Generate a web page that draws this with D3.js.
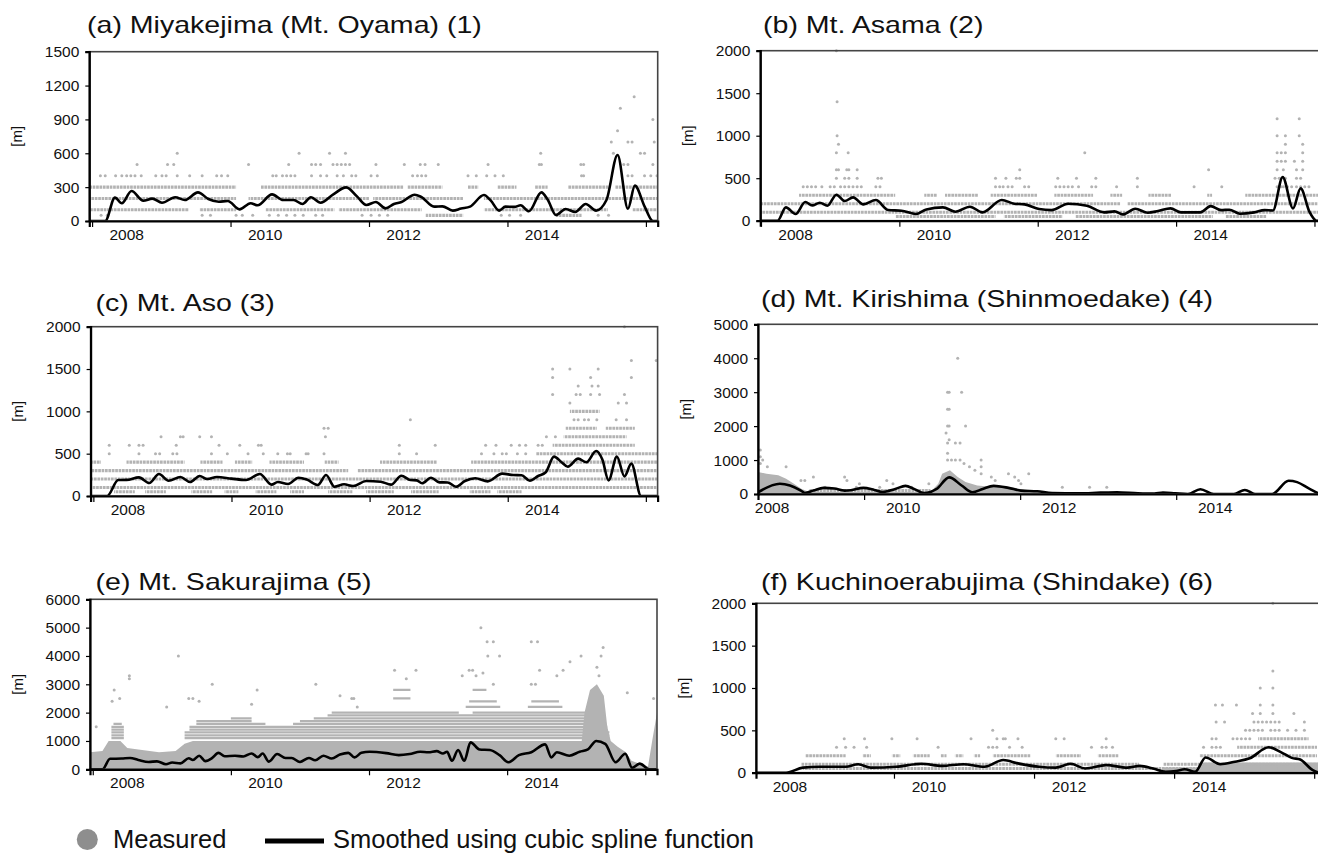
<!DOCTYPE html>
<html>
<head>
<meta charset="utf-8">
<script src="https://cdn.jsdelivr.net/npm/d3@7"></script>
<style>
  body { margin: 0; background: #fff; }
  text { font-family: "Liberation Sans", Arial, Helvetica, sans-serif; fill: #111; }
</style>
</head>
<body>
<svg id="chart" width="1318" height="853"></svg>
<script>
// ---- data (decimal years, metres) ----
const titles = ['(a) Miyakejima (Mt. Oyama) (1)', '(b) Mt. Asama (2)', '(c) Mt. Aso (3)',
  '(d) Mt. Kirishima (Shinmoedake) (4)', '(e) Mt. Sakurajima (5)', '(f) Kuchinoerabujima (Shindake) (6)'];
const yTicksA = [0, 300, 600, 900, 1200, 1500];
const yTicksB = [0, 500, 1000, 1500, 2000];
const yTicksC = [0, 500, 1000, 1500, 2000];
const yTicksD = [0, 1000, 2000, 3000, 4000, 5000];
const yTicksE = [0, 1000, 2000, 3000, 4000, 5000, 6000];
const yTicksF = [0, 500, 1000, 1500, 2000];
const xDomains = [[2007.96, 2016.17], [2007.99, 2016.2], [2007.96, 2016.17],
  [2008.64, 2015.92], [2007.96, 2016.17], [2008.03, 2016.14]];
const yearLabels = [2008, 2010, 2012, 2014];
const legendLabels = ['Measured', 'Smoothed using cubic spline function'];

// smoothed curves
const smoothA = [[2007.96,0],[2008.19,0],[2008.33,207],[2008.43,157],[2008.57,266],[2008.74,180],[2008.87,198],[2009.01,162],[2009.2,210],[2009.34,186],[2009.53,254],[2009.68,195],[2009.83,171],[2009.96,177],[2010.13,103],[2010.29,157],[2010.39,139],[2010.6,236],[2010.76,186],[2010.91,186],[2011.04,151],[2011.16,210],[2011.3,162],[2011.49,239],[2011.67,298],[2011.83,216],[2011.96,142],[2012.1,168],[2012.24,112],[2012.36,151],[2012.47,168],[2012.66,233],[2012.75,215],[2012.94,127],[2013.06,130],[2013.21,92],[2013.33,110],[2013.46,127],[2013.66,230],[2013.76,180],[2013.88,92],[2013.97,127],[2014.1,125],[2014.19,139],[2014.31,86],[2014.49,254],[2014.58,190],[2014.7,53],[2014.84,106],[2014.98,80],[2015.13,151],[2015.28,92],[2015.43,186],[2015.59,585],[2015.74,109],[2015.84,313],[2015.98,130],[2016.1,0],[2016.17,0]];
const smoothB = [[2007.99,0],[2008.24,0],[2008.36,157],[2008.5,78],[2008.64,220],[2008.74,180],[2008.85,212],[2008.96,176],[2009.09,306],[2009.21,231],[2009.33,274],[2009.48,192],[2009.66,243],[2009.84,125],[2010.03,118],[2010.24,78],[2010.39,133],[2010.63,157],[2010.81,106],[2011.02,165],[2011.2,98],[2011.48,243],[2011.66,200],[2011.81,192],[2012.02,137],[2012.2,125],[2012.44,200],[2012.71,176],[2012.96,98],[2013.11,110],[2013.23,74],[2013.41,141],[2013.59,94],[2013.74,114],[2013.92,145],[2014.07,98],[2014.35,98],[2014.5,172],[2014.65,125],[2014.77,129],[2014.92,82],[2015.13,98],[2015.28,125],[2015.4,120],[2015.54,513],[2015.69,145],[2015.8,380],[2015.93,100],[2016.03,0],[2016.2,0]];
const smoothC = [[2007.96,0],[2008.2,0],[2008.36,189],[2008.48,190],[2008.66,220],[2008.81,154],[2008.95,260],[2009.09,181],[2009.26,224],[2009.4,165],[2009.54,236],[2009.65,200],[2009.79,224],[2010.0,205],[2010.21,189],[2010.41,260],[2010.58,134],[2010.67,165],[2010.82,142],[2010.97,216],[2011.09,195],[2011.25,130],[2011.37,248],[2011.49,110],[2011.63,138],[2011.76,118],[2011.95,177],[2012.16,169],[2012.31,134],[2012.46,240],[2012.59,189],[2012.68,185],[2012.76,150],[2012.89,216],[2013.01,161],[2013.13,160],[2013.25,110],[2013.38,177],[2013.53,209],[2013.71,173],[2013.92,264],[2014.08,248],[2014.2,245],[2014.32,181],[2014.44,236],[2014.55,280],[2014.67,465],[2014.78,398],[2014.87,346],[2015.02,441],[2015.14,398],[2015.28,531],[2015.37,430],[2015.46,185],[2015.58,465],[2015.69,232],[2015.79,382],[2015.93,0],[2016.17,0]];
const smoothD = [[2008.64,50],[2008.92,300],[2009.05,250],[2009.19,100],[2009.24,30],[2009.35,100],[2009.48,180],[2009.62,160],[2009.75,100],[2009.83,110],[2009.99,180],[2010.13,120],[2010.23,60],[2010.4,150],[2010.53,240],[2010.64,150],[2010.77,30],[2010.93,150],[2011.09,490],[2011.25,250],[2011.39,50],[2011.52,150],[2011.66,240],[2011.85,180],[2012.01,100],[2012.22,80],[2012.41,30],[2012.76,20],[2013.03,40],[2013.24,50],[2013.51,20],[2013.72,10],[2013.83,40],[2013.99,20],[2014.15,0],[2014.31,140],[2014.48,0],[2014.74,0],[2014.88,120],[2015.01,0],[2015.23,0],[2015.44,390],[2015.55,350],[2015.71,150],[2015.87,0],[2015.92,0]];
const smoothE = [[2007.96,0],[2008.14,0],[2008.25,370],[2008.42,380],[2008.54,400],[2008.66,330],[2008.81,260],[2008.93,280],[2009.06,180],[2009.15,240],[2009.27,210],[2009.39,390],[2009.45,330],[2009.54,480],[2009.63,290],[2009.73,400],[2009.82,580],[2009.91,460],[2010.06,480],[2010.18,450],[2010.3,560],[2010.39,430],[2010.46,560],[2010.55,270],[2010.67,540],[2010.79,400],[2010.88,400],[2011.0,260],[2011.13,400],[2011.22,320],[2011.34,480],[2011.46,380],[2011.58,520],[2011.7,580],[2011.79,420],[2011.89,580],[2012.01,620],[2012.25,570],[2012.43,500],[2012.59,540],[2012.74,620],[2012.86,600],[2012.98,640],[2013.07,560],[2013.13,620],[2013.2,300],[2013.29,680],[2013.38,300],[2013.47,950],[2013.6,700],[2013.75,680],[2013.89,500],[2014.02,250],[2014.17,500],[2014.35,600],[2014.55,880],[2014.64,420],[2014.72,600],[2014.9,480],[2015.05,620],[2015.17,700],[2015.29,1000],[2015.42,900],[2015.57,250],[2015.71,550],[2015.81,50],[2015.92,200],[2016.06,0],[2016.17,0]];
const smoothF = [[2008.03,0],[2008.46,0],[2008.7,60],[2008.94,70],[2009.31,70],[2009.49,100],[2009.67,60],[2010.03,70],[2010.39,105],[2010.69,80],[2010.99,100],[2011.29,70],[2011.56,150],[2011.77,110],[2012.07,70],[2012.31,60],[2012.52,105],[2012.73,50],[2013.03,90],[2013.33,60],[2013.51,80],[2013.7,50],[2013.88,10],[2014.03,20],[2014.15,40],[2014.3,10],[2014.45,180],[2014.66,100],[2014.87,130],[2015.08,170],[2015.35,300],[2015.53,240],[2015.68,175],[2015.8,155],[2015.98,30],[2016.09,0],[2016.14,0]];

// dense measurement rows: [height, [[from, to], ...]]
const rowsA = [
  [300, [[2007.96,2010.08],[2010.44,2012.5],[2012.56,2013.06],[2013.43,2013.58],[2013.86,2014.13],[2014.4,2014.58],[2014.88,2015.46],[2015.56,2016.17]]],
  [200, [[2007.96,2010.08],[2010.26,2012.0],[2012.06,2013.36],[2013.66,2016.17]]],
  [100, [[2007.96,2009.4],[2009.55,2010.08],[2010.5,2011.5],[2011.56,2012.76],[2013.66,2015.45],[2015.8,2016.17]]],
  [50, [[2012.82,2013.36],[2014.7,2015.07]]]];
const rowsB = [
  [200, [[2007.99,2013.2],[2013.3,2016.2]]],
  [100, [[2007.99,2016.2]]],
  [50, [[2009.94,2011.39],[2011.51,2012.36],[2012.54,2014.53],[2014.71,2015.31]]],
  [300, [[2008.55,2009.94],[2010.36,2010.54],[2010.66,2011.14],[2011.32,2011.99],[2012.24,2012.8],[2013.05,2013.22],[2013.6,2013.93],[2014.45,2014.52],[2015.0,2016.2]]]];
const rowsC = [
  [200, [[2007.96,2016.17]]],
  [100, [[2007.96,2016.17]]],
  [300, [[2007.96,2011.69],[2011.82,2016.17]]],
  [400, [[2007.96,2008.11],[2008.48,2009.32],[2009.55,2009.87],[2010.05,2010.3],[2010.55,2011.05],[2011.35,2011.55],[2012.15,2012.98],[2013.47,2016.17]]],
  [50, [[2008.3,2008.6],[2008.75,2009.05],[2009.42,2009.72],[2009.9,2010.1],[2010.35,2010.65],[2010.85,2011.05],[2011.4,2011.75],[2011.95,2012.35],[2012.6,2013.0],[2013.45,2013.75],[2013.85,2014.2]]],
  [500, [[2014.41,2016.17]]],
  [600, [[2014.65,2015.84]]],
  [700, [[2014.81,2015.72]]],
  [800, [[2014.84,2015.29],[2015.42,2015.84]]],
  [1000, [[2014.9,2015.33]]]];
const rowsD = [
  [100, [[2009.3,2010.85]]]];
const rowsE = [
  [1100, [[2008.27,2008.45],[2009.33,2015.48]]],
  [1200, [[2008.27,2008.45],[2009.33,2015.48]]],
  [1300, [[2008.27,2008.45],[2009.33,2015.48]]],
  [1400, [[2008.27,2008.45],[2009.4,2015.45]]],
  [1500, [[2008.27,2008.45],[2009.4,2015.45]]],
  [1600, [[2008.3,2008.42],[2009.5,2010.5],[2010.9,2015.42]]],
  [1700, [[2009.5,2010.3],[2011.0,2015.42]]],
  [1800, [[2010.0,2010.3],[2011.2,2015.42]]],
  [1900, [[2011.4,2015.4]]],
  [2000, [[2011.46,2013.3],[2013.5,2015.4]]],
  [2200, [[2013.4,2013.9],[2014.3,2014.8]]],
  [2400, [[2013.45,2013.85],[2014.35,2014.75]]],
  [2500, [[2012.35,2012.6]]],
  [2800, [[2012.35,2012.6],[2013.5,2013.7]]]];
const rowsF = [
  [100, [[2008.68,2013.5],[2013.85,2016.14]]],
  [50, [[2008.7,2016.14]]],
  [200, [[2008.73,2009.31],[2009.55,2009.67],[2009.97,2010.09],[2010.27,2010.51],[2010.66,2010.75],[2010.87,2010.99],[2011.14,2011.23],[2011.41,2011.95],[2012.31,2012.67],[2012.91,2013.21],[2014.36,2016.04]]],
  [300, [[2014.9,2016.04]]],
  [400, [[2015.2,2015.92]]]];

// solid grey envelopes of very dense measurements
const cloudD = [[2008.64,650],[2008.75,600],[2008.9,550],[2009.0,450],[2009.1,300],[2009.2,150],[2009.3,60],[2010.85,60],[2010.95,300],[2011.0,600],[2011.1,700],[2011.2,500],[2011.3,350],[2011.45,250],[2011.7,200],[2011.9,200],[2012.0,150],[2012.2,80],[2012.35,50],[2013.7,40],[2013.75,0]];
const cloudE = [[2007.96,600],[2008.14,650],[2008.23,1000],[2008.4,1000],[2008.5,750],[2008.66,700],[2008.96,600],[2009.2,650],[2009.33,900],[2009.45,1000],[2015.08,1000],[2015.12,2000],[2015.2,2800],[2015.3,3000],[2015.4,2600],[2015.45,1500],[2015.5,1000],[2015.6,800],[2015.72,600],[2015.8,300],[2015.92,200],[2016.04,100],[2016.1,1000],[2016.17,2000]];
const cloudF = [[2013.85,60],[2014.35,60],[2014.42,120],[2016.1,120],[2016.14,120]];

// scattered measurements: [height, [years ...]]
const pointsA = [
  [50, [2008.13,2008.22,2009.59,2009.71,2010.08,2010.17,2010.32,2010.56,2010.69,2010.81,2010.93,2011.05,2011.23,2011.33,2011.9,2012.03,2012.15,2012.27,2013.91,2014.03,2014.19,2015.31,2015.46]],
  [400, [2008.12,2008.19,2008.34,2008.43,2008.5,2008.56,2008.62,2008.71,2008.92,2009.01,2009.07,2009.23,2009.41,2009.59,2009.8,2009.87,2009.96,2010.61,2010.66,2010.75,2010.81,2010.87,2010.93,2011.17,2011.3,2011.39,2011.54,2011.63,2011.75,2011.81,2012.03,2012.12,2012.63,2012.7,2012.76,2012.82,2013.43,2013.55,2013.7,2013.82,2013.94,2015.07,2015.1,2015.74,2015.8,2015.98,2016.07,2016.16]],
  [500, [2008.65,2009.09,2009.18,2010.26,2010.84,2011.17,2011.23,2011.3,2011.48,2011.54,2011.6,2011.66,2011.72,2012.1,2012.51,2012.74,2012.81,2013.0,2013.72,2014.46,2014.49,2015.06,2015.1,2015.68,2015.74,2016.1]],
  [600, [2009.23,2010.99,2011.43,2011.66,2014.48,2015.53,2015.92,2015.98]],
  [700, [2015.5,2015.74,2015.8,2016.12]],
  [800, [2015.59]], [900, [2016.1]], [1000, [2015.63]], [1100, [2015.83]]];
const pointsB = [
  [400, [2008.61,2008.67,2008.73,2008.79,2008.88,2009.0,2009.06,2009.15,2009.21,2009.27,2009.33,2009.39,2009.45,2009.66,2009.72,2011.39,2011.45,2011.5,2011.57,2011.63,2011.81,2011.87,2012.26,2012.32,2012.38,2012.44,2012.5,2012.59,2012.78,2012.84,2013.14,2013.44,2014.26,2014.66,2015.46,2015.49,2015.52,2015.55,2015.61,2015.67,2015.74,2015.8,2015.86,2015.92]],
  [500, [2009.09,2009.21,2009.27,2009.39,2009.69,2009.74,2011.39,2011.54,2011.69,2011.74,2012.29,2012.56,2012.84,2013.44,2015.43,2015.49,2015.58,2015.74,2015.8]],
  [600, [2009.09,2009.12,2009.24,2009.27,2009.39,2011.74,2014.47,2015.46,2015.55,2015.74,2015.83]],
  [700, [2015.46,2015.52,2015.58,2015.71,2015.83]],
  [800, [2009.09,2009.26,2012.68,2015.46,2015.52,2015.58,2015.83]],
  [900, [2009.12,2015.58,2015.83]],
  [1000, [2009.1,2015.46,2015.58,2015.78]],
  [1200, [2015.46,2015.78]], [1400, [2009.1]], [2000, [2009.09]]];
const pointsC = [
  [500, [2008.23,2008.66,2008.9,2008.96,2009.15,2009.21,2009.71,2009.94,2010.24,2010.46,2010.67,2010.81,2010.85,2011.08,2011.11,2011.34,2012.43,2012.68,2013.62,2013.8,2013.92,2013.98,2014.14,2014.26]],
  [600, [2008.23,2008.52,2008.66,2008.72,2009.2,2009.82,2010.12,2010.39,2010.43,2012.43,2012.95,2013.68,2013.83,2014.05,2014.17,2014.26,2014.44,2014.5]],
  [700, [2008.98,2009.26,2009.3,2009.54,2009.71,2011.36,2014.56,2014.69]],
  [800, [2011.34,2011.4]],
  [900, [2012.59,2014.96,2015.02,2015.11,2015.17,2015.29,2015.57,2015.72]],
  [1100, [2014.9,2015.6,2015.72]],
  [1200, [2014.65,2014.99,2015.05,2015.2,2015.33,2015.69]],
  [1300, [2015.02,2015.22,2015.31]],
  [1400, [2014.65,2015.2,2015.79]],
  [1500, [2014.65,2014.9,2015.31]],
  [1600, [2015.79,2016.15]], [2000, [2015.69]]];
const pointsD = [
  [200, [2009.5,2009.9,2010.2,2010.61,2012.54,2012.89,2013.11]],
  [300, [2009.94,2010.37,2010.83,2012.01]],
  [400, [2009.19,2009.24,2009.78,2010.29,2011.68,2011.98]],
  [500, [2009.35,2009.75,2011.63,2011.93]],
  [600, [2011.5,2011.85,2012.11]],
  [700, [2011.42]], [800, [2008.76,2009.0,2011.35,2011.5]], [900, [2008.67,2011.28]],
  [1000, [2008.7,2011.07,2011.12,2011.17,2011.23,2011.5]], [1100, [2008.67]], [1200, [2011.07]],
  [1300, [2008.67]], [1500, [2011.07,2011.17,2011.23]], [1600, [2011.09]], [1800, [2011.05]],
  [2000, [2011.07,2011.09,2011.3]], [2500, [2011.07,2011.09]], [3000, [2011.07,2011.09,2011.25]], [4000, [2011.2]]];
const pointsE = [
  [1500, [2008.05]], [2200, [2009.07,2011.83]], [2300, [2010.3]], [2400, [2008.28,2009.54]],
  [2500, [2008.39,2009.39,2009.45,2011.75,2011.78,2016.12]], [2600, [2011.58]], [2700, [2015.74]],
  [2800, [2008.31,2010.38]], [3000, [2009.73,2011.23,2013.8,2014.35,2014.41]],
  [3200, [2008.53,2012.54]], [3300, [2008.53,2013.35,2013.55,2014.72,2015.33]],
  [3400, [2013.65]], [3500, [2012.37,2012.68,2013.45,2013.5,2014.47,2014.81]], [3600, [2015.3]],
  [3800, [2014.91]], [4000, [2009.24,2013.72,2013.89,2015.07,2015.36]], [4300, [2015.39]],
  [4500, [2013.71,2013.8,2014.35,2014.44]], [5000, [2013.62]]];
const pointsF = [
  [300, [2009.18,2009.31,2009.43,2009.61,2010.63,2011.35,2011.41,2011.47,2011.65,2011.83,2012.82,2012.97,2013.03,2013.12,2014.42,2014.54,2014.6,2014.66]],
  [400, [2009.29,2009.58,2009.97,2010.33,2011.1,2011.47,2011.56,2011.59,2011.77,2012.31,2012.43,2013.03,2014.54,2014.6,2014.84,2014.9,2014.96,2015.02,2015.08]],
  [500, [2011.41,2015.02,2015.08,2015.14,2015.2,2015.26,2015.38,2015.44,2015.5,2015.62,2015.74,2015.86]],
  [600, [2014.6,2014.72,2015.14,2015.2,2015.26,2015.32,2015.38,2015.44,2015.5,2015.86]],
  [700, [2015.12,2015.23,2015.41,2015.71]],
  [800, [2014.59,2014.69,2014.89,2015.23,2015.41]],
  [1000, [2015.23,2015.41]], [1200, [2015.41]], [2000, [2015.41]]];

// ---- layout ----
// rowW / rowDash: stroke of the dense rows (Sakurajima rows sit so close they merge into bands)
const panels = [
  {title: titles[0], box: [89.3, 51.7, 568.4, 169.3], tx: 87, ty: 33, xDomain: xDomains[0], yTicks: yTicksA, smooth: smoothA, rows: rowsA, points: pointsA, cloud: null, rowW: 3.1, rowDash: '2.7,0.7'},
  {title: titles[1], box: [760.3, 50.7, 568, 170], tx: 763, ty: 33, xDomain: xDomains[1], yTicks: yTicksB, smooth: smoothB, rows: rowsB, points: pointsB, cloud: null, rowW: 3.1, rowDash: '2.7,0.7'},
  {title: titles[2], box: [90.6, 326.7, 567, 169.3], tx: 95.5, ty: 311, xDomain: xDomains[2], yTicks: yTicksC, smooth: smoothC, rows: rowsC, points: pointsC, cloud: null, rowW: 3.1, rowDash: '2.7,0.7'},
  {title: titles[3], box: [758, 324.3, 568, 169.7], tx: 761, ty: 307, xDomain: xDomains[3], yTicks: yTicksD, smooth: smoothD, rows: rowsD, points: pointsD, cloud: cloudD, rowW: 3.1, rowDash: '2.7,0.7'},
  {title: titles[4], box: [90, 599.3, 567, 170], tx: 95.5, ty: 590, xDomain: xDomains[4], yTicks: yTicksE, smooth: smoothE, rows: rowsE, points: pointsE, cloud: cloudE, rowW: 2.2, rowDash: null},
  {title: titles[5], box: [756, 603.3, 568, 169.4], tx: 761, ty: 590, xDomain: xDomains[5], yTicks: yTicksF, smooth: smoothF, rows: rowsF, points: pointsF, cloud: cloudF, rowW: 3.1, rowDash: '2.7,0.7'}
];

const svg = d3.select('#chart');
const grey = '#b3b3b3';

panels.forEach((p, i) => drawPanel(p, i));

function drawPanel(p, i) {
  const [left, top, w, h] = p.box;
  const x = d3.scaleLinear().domain(p.xDomain).range([0, w]);
  const y = d3.scaleLinear().domain([0, d3.max(p.yTicks)]).range([h, 0]);

  // the original lettering is wide, so stretch it sideways a little
  svg.append('text').attr('transform', `translate(${p.tx},${p.ty}) scale(1.19,1)`)
      .style('font-size', '24px').text(p.title);

  const g = svg.append('g').attr('transform', `translate(${left},${top})`);
  svg.append('clipPath').attr('id', 'clip' + i)
    .append('rect').attr('x', 0).attr('y', -2).attr('width', w).attr('height', h + 2);
  const plot = g.append('g').attr('clip-path', `url(#clip${i})`);

  if (p.cloud) {
    plot.append('path').datum(p.cloud)
        .attr('d', d3.area().x(d => x(d[0])).y0(h).y1(d => y(d[1])))
        .attr('fill', grey);
  }

  const runs = p.rows.flatMap(([v, rs], k) => rs.map(r => ({v, r, k})));
  plot.append('g').selectAll('line').data(runs).join('line')
      .attr('x1', d => x(d.r[0])).attr('x2', d => x(d.r[1]))
      .attr('y1', d => y(d.v)).attr('y2', d => y(d.v))
      .attr('stroke', grey).attr('stroke-width', p.rowW)
      .attr('stroke-dasharray', p.rowDash)
      .attr('stroke-dashoffset', d => d.k * 1.3);

  const pts = p.points.flatMap(([v, ys]) => ys.map(t => [t, v]));
  plot.append('g').selectAll('circle').data(pts).join('circle')
      .attr('cx', d => x(d[0])).attr('cy', d => y(d[1])).attr('r', 1.5)
      .attr('fill', grey);

  plot.append('path').datum(p.smooth)
      .attr('d', d3.line().x(d => x(d[0])).y(d => y(d[1])).curve(d3.curveMonotoneX))
      .attr('fill', 'none').attr('stroke', '#000').attr('stroke-width', 2.6)
      .attr('stroke-linejoin', 'round');

  // frame
  g.append('rect').attr('width', w).attr('height', h)
      .attr('fill', 'none').attr('stroke', '#444').attr('stroke-width', 1.6);

  // y axis
  const yAxis = g.append('g').call(d3.axisLeft(y).tickValues(p.yTicks).tickSize(4).tickPadding(6).tickFormat(d3.format('d')));
  yAxis.select('.domain').attr('stroke', '#000').attr('stroke-width', 2.2);
  yAxis.selectAll('.tick line').attr('stroke', '#000').attr('stroke-width', 1.2);
  yAxis.selectAll('text').style('font-size', '15.5px').attr('fill', '#111');

  // x axis: minor ticks every two months, major every two years
  const [d0, d1] = p.xDomain;
  const minor = d3.range(Math.ceil(d0 * 6), Math.floor(d1 * 6) + 1).map(k => k / 6);
  const major = minor.filter(t => Math.abs(t - Math.round(t)) < 1e-6 && Math.round(t) % 2 === 0);
  const xa = g.append('g').attr('transform', `translate(0,${h})`);
  xa.call(d3.axisBottom(x).tickValues(minor).tickSize(3.5).tickFormat(''));
  xa.call(d3.axisBottom(x).tickValues(major).tickSize(6).tickFormat(''));
  xa.selectAll('.domain').attr('stroke', '#000').attr('stroke-width', 2.2);
  xa.selectAll('.tick line').attr('stroke', '#000').attr('stroke-width', 1.2);

  // year labels centred on the visible part of each year
  g.append('g').selectAll('text').data(yearLabels).join('text')
      .attr('x', yr => x((Math.max(yr, d0) + Math.min(yr + 1, d1)) / 2))
      .attr('y', h + 19).attr('text-anchor', 'middle')
      .style('font-size', '15.5px').text(yr => yr);

  g.append('text').attr('transform', `translate(${-72.6},${h / 2}) rotate(-90)`)
      .attr('text-anchor', 'middle').attr('dy', '0.35em')
      .style('font-size', '15px').text('[m]');
}

// legend
const legend = svg.append('g');
legend.append('circle').attr('cx', 87.3).attr('cy', 839.5).attr('r', 10.5).attr('fill', '#8e8e8e');
legend.append('text').attr('x', 113).attr('y', 848).style('font-size', '25.5px').text(legendLabels[0]);
legend.append('line').attr('x1', 265).attr('x2', 324).attr('y1', 841).attr('y2', 841)
    .attr('stroke', '#000').attr('stroke-width', 5);
legend.append('text').attr('x', 333).attr('y', 848).style('font-size', '25.5px').text(legendLabels[1]);
</script>
</body>
</html>
